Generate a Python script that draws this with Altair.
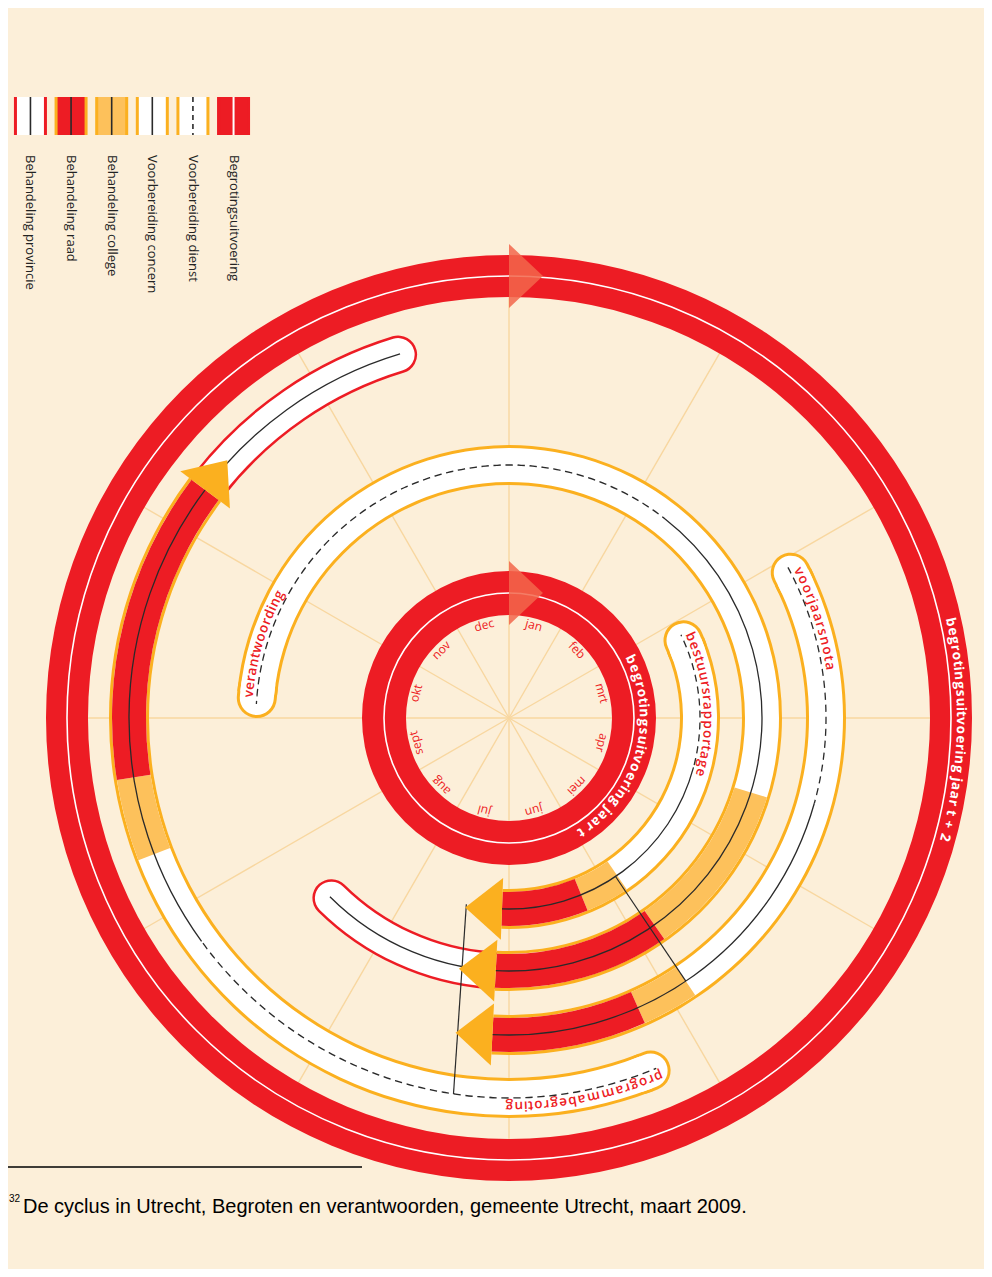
import math
import altair as alt
import pandas as pd

# ------------------------------------------------------------------ data
MONTHS = ["jan", "feb", "mrt", "apr", "mei", "jun", "jul", "aug", "sept", "okt", "nov", "dec"]

# planning documents; month positions (0 = 1 jan, past 12 = next year) where
# the phases dienst / concern / college / raad begin, last value = hand-over (arrow)
DOCS = ["verantwoording", "bestuursrapportage", "voorjaarsnota", "programmabegroting"]
PHASES = ["dienst", "concern", "college", "raad"]
VERANTWOORDING = [9.00, 13.27, 15.57, 16.83, 18.10]
BESTUURSRAPPORTAGE = [2.00, 3.50, 4.85, 5.26, 6.07]
VOORJAARSNOTA = [1.97, 3.52, 4.87, 5.20, 6.10]
PROGRAMMABEGROTING = [5.17, 7.80, 8.30, 8.70, 10.23]

# behandeling provincie after the raad
PROVINCIE_DOC = ["verantwoording", "programmabegroting"]
PROVINCIE_START = [18.00, 10.17]
PROVINCIE_END = [19.63, 11.53]

# connecting lines between documents
LINK_FROM = ["bestuursrapportage", "bestuursrapportage"]
LINK_FROM_T = [4.87, 6.43]
LINK_TO = ["voorjaarsnota", "programmabegroting"]
LINK_TO_T = [4.87, 6.28]

RINGS = ["jaar t", "jaar t + 2"]
RING_LABELS = ["begrotingsuitvoering jaar t", "begrotingsuitvoering jaar t + 2"]

LEGEND_LABELS = ["Behandeling provincie", "Behandeling raad", "Behandeling college",
                 "Voorbereiding concern", "Voorbereiding dienst", "Begrotingsuitvoering"]
LEGEND_KIND = ["provincie", "raad", "college", "concern", "dienst", "uitvoering"]

FOOTNOTE_NR = "32"
FOOTNOTE = "De cyclus in Utrecht, Begroten en verantwoorden, gemeente Utrecht, maart 2009."

DOC_BOUNDS = dict(zip(DOCS, [VERANTWOORDING, BESTUURSRAPPORTAGE, VOORJAARSNOTA, PROGRAMMABEGROTING]))

# ------------------------------------------------------------------ layout / style
CX, CY = 501, 710
TRACK_R = {"jaar t": 125, "bestuursrapportage": 191, "verantwoording": 253,
           "voorjaarsnota": 317, "programmabegroting": 380, "jaar t + 2": 442}
RING_W = {"jaar t": 44, "jaar t + 2": 42}
HALF = 20        # half band thickness
INSET = 17       # half thickness of band fill
PROV_HALF = 19
PROV_INSET = 16.5
LABEL_SPAN = {"verantwoording": (9.15, 9.97), "bestuursrapportage": (2.15, 3.57),
              "voorjaarsnota": (2.08, 2.72), "programmabegroting": (5.22, 6.02),
              "jaar t": (2.07, 4.97), "jaar t + 2": (2.57, 3.53)}

RED = "#ED1C24"
ORANGE = "#FBB01F"
LIGHT = "#FDC15B"
CREAM = "#FCEFD9"
SPOKE = "#F8D7A0"
INK = "#2A2A2A"
ARROW_RED = "#F2664B"
DASH, GAP = 7, 5

CW = {'a': .556, 'b': .613, 'c': .476, 'd': .613, 'e': .561, 'f': .339, 'g': .548, 'h': .614,
      'i': .253, 'j': .253, 'k': .525, 'l': .253, 'm': .930, 'n': .614, 'o': .604, 'p': .613,
      'r': .408, 's': .477, 't': .353, 'u': .614, 'v': .501, 'w': .778, 'y': .5, ' ': .26,
      '+': .572, '2': .572}

TSCALE = alt.Scale(domain=[0, 12], range=[0, 2 * math.pi], zero=False, nice=False)
PX = alt.X("px:Q", scale=None, axis=None)
PY = alt.Y("py:Q", scale=None, axis=None)
ROT = alt.Angle("rot:Q", scale=None)


def to_m(px, r):
    return px / r * 6 / math.pi


def arc_chart(rows, **mark):
    df = pd.DataFrame(rows)
    enc = dict(theta=alt.Theta("t0:Q", scale=TSCALE, stack=None), theta2=alt.Theta2(field="t1"),
               radius=alt.Radius("r1:Q", scale=None), radius2=alt.Radius2(field="r0"),
               x=alt.value(CX), y=alt.value(CY))
    if "c" in df.columns:
        enc["color"] = alt.Color("c:N", scale=None)
    return alt.Chart(df).mark_arc(**mark).encode(**enc)


def polar(df):
    return alt.Chart(pd.DataFrame(df)).transform_calculate(
        px=f"{CX} + datum.r * sin(datum.t * PI / 6)",
        py=f"{CY} - datum.r * cos(datum.t * PI / 6)",
        rot="(datum.t * 30) % 360",
    )


layers = []

# spokes
R_OUT = TRACK_R["jaar t + 2"]
layers.append(arc_chart([dict(t0=k, t1=k, r0=0, r1=R_OUT - 20) for k in range(12)],
                        fill="transparent", stroke=SPOKE, strokeWidth=1.4))

# rings (begrotingsuitvoering)
layers.append(arc_chart([dict(t0=0, t1=12, r0=TRACK_R[g] - RING_W[g] / 2, r1=TRACK_R[g] + RING_W[g] / 2)
                         for g in RINGS], color=RED))
layers.append(arc_chart([dict(t0=0, t1=12, r0=TRACK_R[g], r1=TRACK_R[g]) for g in RINGS],
                        fill="transparent", stroke="white", strokeWidth=1.6))

# behandeling provincie capsules
prov_out, prov_fill, prov_line = [], [], []
for d, s, e in zip(PROVINCIE_DOC, PROVINCIE_START, PROVINCIE_END):
    R = TRACK_R[d]
    prov_out.append(dict(t0=s, t1=e, r0=R - PROV_HALF, r1=R + PROV_HALF))
    prov_fill.append(dict(t0=s + to_m(2.5, R), t1=e - to_m(2.5, R), r0=R - PROV_INSET, r1=R + PROV_INSET))
    prov_line.append(dict(t0=s, t1=e - to_m(17, R), r0=R, r1=R))
layers.append(arc_chart(prov_out, color=RED, cornerRadius=PROV_HALF))
layers.append(arc_chart(prov_fill, color="white", cornerRadius=PROV_INSET))
layers.append(arc_chart(prov_line, fill="transparent", stroke=INK, strokeWidth=1.3))

# main document bands
out_cap, out_body, fill_cap, fill_body, phase_fill, solid = [], [], [], [], [], []
dashed_layers = []
for d in DOCS:
    R = TRACK_R[d]
    b = DOC_BOUNDS[d]
    out_cap.append(dict(t0=b[0], t1=b[0] + to_m(50, R), r0=R - HALF, r1=R + HALF))
    out_body.append(dict(t0=b[0] + to_m(25, R), t1=b[-1], r0=R - HALF, r1=R + HALF))
    fill_cap.append(dict(t0=b[0] + to_m(3, R), t1=b[0] + to_m(50, R), r0=R - INSET, r1=R + INSET))
    fill_body.append(dict(t0=b[0] + to_m(25, R), t1=b[-1], r0=R - INSET, r1=R + INSET))
    phase_fill.append(dict(t0=b[2], t1=b[3], r0=R - INSET, r1=R + INSET, c=LIGHT))
    phase_fill.append(dict(t0=b[3], t1=b[4], r0=R - INSET, r1=R + INSET, c=RED))
    solid.append(dict(t0=b[1], t1=b[4], r0=R, r1=R))
    t0 = b[0] + to_m(14, R)
    A = R * (b[1] - t0) * math.pi / 6
    off = (DASH / 2 - A) % ((DASH + GAP) / 2)
    dashed_layers.append(arc_chart([dict(t0=t0, t1=b[1], r0=R, r1=R)], fill="transparent", stroke=INK,
                                   strokeWidth=1.3, strokeDash=[DASH, GAP], strokeDashOffset=off))
layers.append(arc_chart(out_cap, color=ORANGE, cornerRadius=HALF))
layers.append(arc_chart(out_body, color=ORANGE))
layers.append(arc_chart(fill_cap, color="white", cornerRadius=INSET))
layers.append(arc_chart(fill_body, color="white"))
layers.append(arc_chart(phase_fill))
layers.extend(dashed_layers)
layers.append(arc_chart(solid, fill="transparent", stroke=INK, strokeWidth=1.3))

# connecting lines
links = [dict(ra=TRACK_R[a], ta=ta, rb=TRACK_R[b], tb=tb)
         for a, ta, b, tb in zip(LINK_FROM, LINK_FROM_T, LINK_TO, LINK_TO_T)]
layers.append(alt.Chart(pd.DataFrame(links)).transform_calculate(
    px=f"{CX} + datum.ra * sin(datum.ta * PI / 6)",
    py=f"{CY} - datum.ra * cos(datum.ta * PI / 6)",
    qx=f"{CX} + datum.rb * sin(datum.tb * PI / 6)",
    qy=f"{CY} - datum.rb * cos(datum.tb * PI / 6)",
).mark_rule(color=INK, strokeWidth=1.2).encode(x=PX, y=PY, x2=alt.X2(field="qx"), y2=alt.Y2(field="qy")))

# arrows
arrows = [dict(t=DOC_BOUNDS[d][-1], r=TRACK_R[d]) for d in DOCS]
layers.append(polar(arrows).mark_point(shape="M0,-1L1.19,0L0,1Z", filled=True, size=62 * 62,
                                       color=ORANGE, opacity=1, strokeWidth=0)
              .encode(x=PX, y=PY, angle=ROT))
ring_arrows = [dict(t=0, r=TRACK_R[g]) for g in RINGS]
layers.append(polar(ring_arrows).mark_point(shape="M0,-1L1.06,0L0,1Z", filled=True, size=64 * 64,
                                            color=ARROW_RED, opacity=0.85, strokeWidth=0)
              .encode(x=PX, y=PY, angle=ROT))


# curved labels
def char_rows(label, span, r):
    widths = [CW.get(ch, 0.55) for ch in label]
    total = sum(widths)
    rows, acc = [], 0.0
    for ch, w in zip(label, widths):
        rows.append(dict(ch=ch, t=span[0] + (span[1] - span[0]) * (acc + w / 2) / total, r=r))
        acc += w
    return rows


doc_chars = []
for d in DOCS:
    doc_chars += char_rows(d, LABEL_SPAN[d], TRACK_R[d] + 8)
layers.append(polar(doc_chars).mark_text(font="Open Sans", fontSize=13.5, fontWeight=600, color=RED,
                                         align="center", baseline="middle")
              .encode(x=PX, y=PY, angle=ROT, text="ch:N"))

ring_chars = []
for g, lab in zip(RINGS, RING_LABELS):
    ring_chars += char_rows(lab, LABEL_SPAN[g], TRACK_R[g] + 10)
layers.append(polar(ring_chars).mark_text(font="Open Sans", fontSize=13.5, fontWeight="bold", color="white",
                                          align="center", baseline="middle")
              .encode(x=PX, y=PY, angle=ROT, text="ch:N"))

months = [dict(ch=m, t=k + 0.5, r=TRACK_R["jaar t"] - 29) for k, m in enumerate(MONTHS)]
layers.append(polar(months).mark_text(font="Open Sans", fontSize=12, color=RED,
                                      align="center", baseline="middle")
              .encode(x=PX, y=PY, angle=ROT, text="ch:N"))

# legend
EDGE_OF = {"provincie": RED, "raad": ORANGE, "college": ORANGE, "concern": ORANGE, "dienst": ORANGE, "uitvoering": RED}
FILL_OF = {"provincie": "white", "raad": RED, "college": LIGHT, "concern": "white", "dienst": "white", "uitvoering": RED}
leg = pd.DataFrame({"item": LEGEND_LABELS, "kind": LEGEND_KIND})
leg["edge"] = leg["kind"].map(EDGE_OF)
leg["fill"] = leg["kind"].map(FILL_OF)
LX = alt.X("item:N", scale=alt.Scale(domain=LEGEND_LABELS, range=[6, 242], paddingInner=0.19, paddingOuter=0),
           axis=None)
leg_base = alt.Chart(leg).encode(x=LX, y=alt.value(89), y2=alt.value(127))
layers.append(leg_base.mark_bar(size=33).encode(color=alt.Color("edge:N", scale=None)))
layers.append(leg_base.mark_bar(size=27).encode(color=alt.Color("fill:N", scale=None)))
layers.append(leg_base.transform_filter(
    alt.FieldOneOfPredicate(field="kind", oneOf=["provincie", "raad", "college", "concern"]))
    .mark_bar(size=1.6, color=INK))
layers.append(leg_base.transform_filter(alt.FieldEqualPredicate(field="kind", equal="dienst"))
              .mark_rule(color=INK, strokeWidth=1.6, strokeDash=[5, 4]))
layers.append(leg_base.transform_filter(alt.FieldEqualPredicate(field="kind", equal="uitvoering"))
              .mark_bar(size=2, color="white"))
layers.append(alt.Chart(leg).mark_text(angle=90, align="left", baseline="middle", font="Open Sans",
                                       fontSize=13, color="#222222")
              .encode(x=LX, y=alt.value(147), text="item:N"))

# footnote
one = pd.DataFrame({"t": [FOOTNOTE]})
layers.append(alt.Chart(one).mark_rule(color="black", strokeWidth=1.6)
              .encode(x=alt.value(0), x2=alt.value(354), y=alt.value(1159)))
layers.append(alt.Chart(pd.DataFrame({"t": [FOOTNOTE_NR]})).mark_text(
    align="left", baseline="alphabetic", font="Liberation Sans", fontSize=10, color="black")
    .encode(text="t:N", x=alt.value(1), y=alt.value(1194)))
layers.append(alt.Chart(one).mark_text(align="left", baseline="alphabetic", font="Liberation Sans",
                                       fontSize=20, color="black")
              .encode(text="t:N", x=alt.value(15), y=alt.value(1205)))

chart = alt.layer(*layers).properties(
    width=976, height=1261, autosize=alt.AutoSizeParams(type="none"), padding=0, background=CREAM
).configure_view(strokeWidth=0)

chart.save("out.html", embed_options={"renderer": "svg", "actions": False})
